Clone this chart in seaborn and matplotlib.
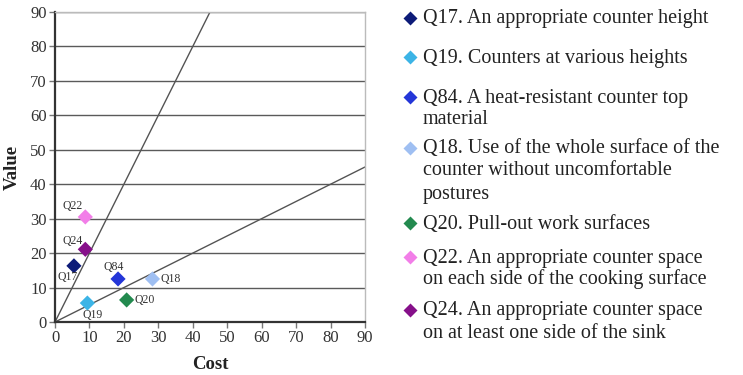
import matplotlib
matplotlib.use("Agg")
import matplotlib.pyplot as plt
import seaborn as sns
import pandas as pd
from matplotlib.lines import Line2D

sns.set_style("white")
plt.rcParams['font.family'] = ['Liberation Serif', 'DejaVu Serif']

ids = ["Q17", "Q19", "Q84", "Q18", "Q20", "Q22", "Q24"]
labels = [
    "Q17. An appropriate counter height",
    "Q19. Counters at various heights",
    "Q84. A heat-resistant counter top\nmaterial",
    "Q18. Use of the whole surface of the\ncounter without uncomfortable\npostures",
    "Q20. Pull-out work surfaces",
    "Q22. An appropriate counter space\non each side of the cooking surface",
    "Q24. An appropriate counter space\non at least one side of the sink",
]
cost = [5.5, 9.4, 18.3, 28.3, 20.8, 8.8, 8.8]
value = [16.3, 5.5, 12.5, 12.5, 6.4, 30.5, 21.1]
colors = ["#0d1b78", "#3cb4e6", "#2436d8", "#9fbff2", "#238a4f", "#f27ee8", "#86108a"]
ref_line_x = [0, 90]
steep_slope = 2.0
shallow_slope = 0.5

df = pd.DataFrame({"id": ids, "label": labels, "Cost": cost, "Value": value})

W, H = 743, 375
fig = plt.figure(figsize=(W / 100, H / 100), dpi=100)
ax = fig.add_axes([55/W, 1 - 322/H, 310/W, 310/H])

ax.set_xlim(0, 90)
ax.set_ylim(0, 90)
ax.set_yticks(range(0, 91, 10))
ax.set_xticks(range(0, 91, 10))
ax.yaxis.grid(True, color="#5a5a5a", linewidth=1.0)
ax.xaxis.grid(False)
ax.set_axisbelow(True)

# reference lines
ax.plot(ref_line_x, [steep_slope * x for x in ref_line_x], color="#555555", lw=1.0, zorder=2)
ax.plot(ref_line_x, [shallow_slope * x for x in ref_line_x], color="#555555", lw=1.0, zorder=2)

sns.scatterplot(data=df, x="Cost", y="Value", hue="label", palette=colors,
                marker="D", s=60, edgecolor="none", ax=ax, legend=False, zorder=3)

# point label offsets in pixels (dx, dy up)
offsets = {
    "Q17": (-6, -11),
    "Q19": (5, -12),
    "Q84": (-4, 12),
    "Q18": (18, 0),
    "Q20": (18, 0),
    "Q22": (-13, 11),
    "Q24": (-13, 8),
}
for i, q in enumerate(ids):
    dx, dy = offsets[q]
    ax.annotate(q, (cost[i], value[i]), xytext=(dx * 0.72, dy * 0.72), textcoords="offset points",
                ha="center", va="center", fontsize=8.5, color="#333333")

for s in ["left", "bottom"]:
    ax.spines[s].set_color("#333333")
    ax.spines[s].set_linewidth(1.6)
for s in ["top", "right"]:
    ax.spines[s].set_color("#bbbbbb")
    ax.spines[s].set_linewidth(1.0)
ax.tick_params(axis="both", direction="out", length=4, width=1, color="#777777",
               labelsize=12, labelcolor="#333333", pad=2, left=True, bottom=True)
ax.set_xlabel("Cost", fontsize=13.5, fontweight="bold", color="#222222", labelpad=7)
ax.set_ylabel("Value", fontsize=13.5, fontweight="bold", color="#222222", labelpad=7)

# legend (manual layout to match line positions)
line_y = [[18], [57], [97, 118], [148, 170, 193], [223], [257, 278], [310, 332]]
for lab, c, ys in zip(labels, colors, line_y):
    fig.add_artist(Line2D([410 / W], [1 - ys[0] / H], marker="D", color="none",
                          markerfacecolor=c, markeredgecolor="none", markersize=7.5,
                          transform=fig.transFigure))
    for txt, y in zip(lab.split("\n"), ys):
        fig.text(423 / W, 1 - (y + 1) / H, txt, ha="left", va="center",
                 fontsize=14.5, color="#222222")

fig.savefig("out.png", dpi=100)
